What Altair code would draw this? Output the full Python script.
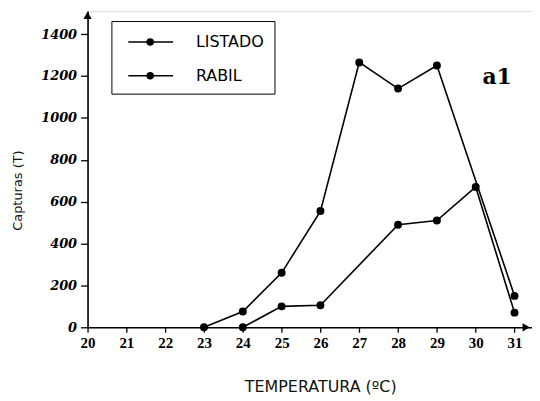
import altair as alt
import pandas as pd

# Data
temp_listado = [23, 24, 25, 26, 27, 28, 29, 31]
capt_listado = [0, 75, 260, 555, 1265, 1140, 1250, 150]
temp_rabil = [24, 25, 26, 28, 29, 30, 31]
capt_rabil = [0, 100, 105, 490, 510, 670, 70]
series = ["LISTADO", "RABIL"]
x_ticks = list(range(20, 32))
y_ticks = [0, 200, 400, 600, 800, 1000, 1200, 1400]
panel_label = ["a1"]
panel_x = [30.55]
panel_y = [1195]
arrow_x = [31.3, 20]
arrow_y = [0, 1490]
arrow_shape = ["triangle-right", "triangle-up"]

df = pd.concat([
    pd.DataFrame({"t": temp_listado, "c": capt_listado, "s": series[0]}),
    pd.DataFrame({"t": temp_rabil, "c": capt_rabil, "s": series[1]}),
], ignore_index=True)
df_label = pd.DataFrame({"t": panel_x, "c": panel_y, "txt": panel_label})
df_arrow = pd.DataFrame({"t": arrow_x, "c": arrow_y, "shape": arrow_shape})

xs = alt.Scale(domain=[20, 31.45], nice=False, zero=False)
ys = alt.Scale(domain=[0, 1510], nice=False)

x_axis = alt.Axis(
    values=x_ticks, title="TEMPERATURA (ºC)", grid=False,
    labelFont="Liberation Sans Narrow", labelFontWeight="bold", labelFontSize=15,
    labelColor="black", labelPadding=3, tickSize=5, tickColor="black", tickWidth=1.3,
    domainColor="black", domainWidth=1.6, labelFlush=False,
    titleFont="DejaVu Sans", titleFontSize=16, titleFontWeight="normal", titleColor="#111",
    titleX=234, titleY=65, titleBaseline="alphabetic", titleAlign="center",
)
y_axis = alt.Axis(
    values=y_ticks, title="Capturas (T)", grid=False, format="d",
    labelFont="DejaVu Serif", labelFontStyle="italic", labelFontWeight="bold",
    labelFontSize=13, labelColor="black", labelPadding=4, tickSize=7,
    tickColor="black", tickWidth=1.3, domainColor="black", domainWidth=1.6,
    titleFont="DejaVu Sans", titleFontSize=13, titleFontWeight="normal", titleColor="#111",
    titleX=-70, titleY=180, titleAngle=270, titleBaseline="middle", titleAlign="center",
)

# line from -0.4 to 4.1 units with a dot at 1.8 (10 px per unit at size 400)
sym_path = ("M-0.4,0L4.1,0M1.5,0A0.3,0.3 0 1,1 2.1,0"
            "A0.3,0.3 0 1,1 1.5,0Z")

lines = alt.Chart(df).mark_line(color="black", strokeWidth=1.6).encode(
    x=alt.X("t:Q", scale=xs, axis=x_axis),
    y=alt.Y("c:Q", scale=ys, axis=y_axis),
    detail="s:N",
)
points = alt.Chart(df).mark_point(filled=True, size=36, opacity=1, stroke="black").encode(
    x=alt.X("t:Q", scale=xs),
    y=alt.Y("c:Q", scale=ys),
    fill=alt.Fill(
        "s:N",
        scale=alt.Scale(domain=series, range=["black", "black"]),
        legend=alt.Legend(
            title=None, orient="none", legendX=24, legendY=10,
            strokeColor="black", padding=10, rowPadding=15,
            symbolType=sym_path, symbolSize=400, symbolStrokeColor="black",
            symbolStrokeWidth=1.5, symbolFillColor="black",
            labelFont="DejaVu Sans", labelFontSize=16, labelColor="black",
            labelOffset=53,
        ),
    ),
)
label = alt.Chart(df_label).mark_text(
    font="DejaVu Serif", fontWeight="bold", fontSize=22, color="black"
).encode(x=alt.X("t:Q", scale=xs), y=alt.Y("c:Q", scale=ys), text="txt:N")
arrows = alt.Chart(df_arrow).mark_point(filled=True, size=70, color="black", opacity=1).encode(
    x=alt.X("t:Q", scale=xs), y=alt.Y("c:Q", scale=ys),
    shape=alt.Shape("shape:N", scale=None),
)

chart = alt.layer(lines, arrows, points, label).properties(
    width=447, height=318,
    padding={"left": 80, "top": 2, "right": 0, "bottom": 72},
    autosize=alt.AutoSizeParams(type="none"),
).configure_view(stroke=None).configure(background="white")

chart.save("out.html", embed_options={"renderer": "svg", "actions": False})
